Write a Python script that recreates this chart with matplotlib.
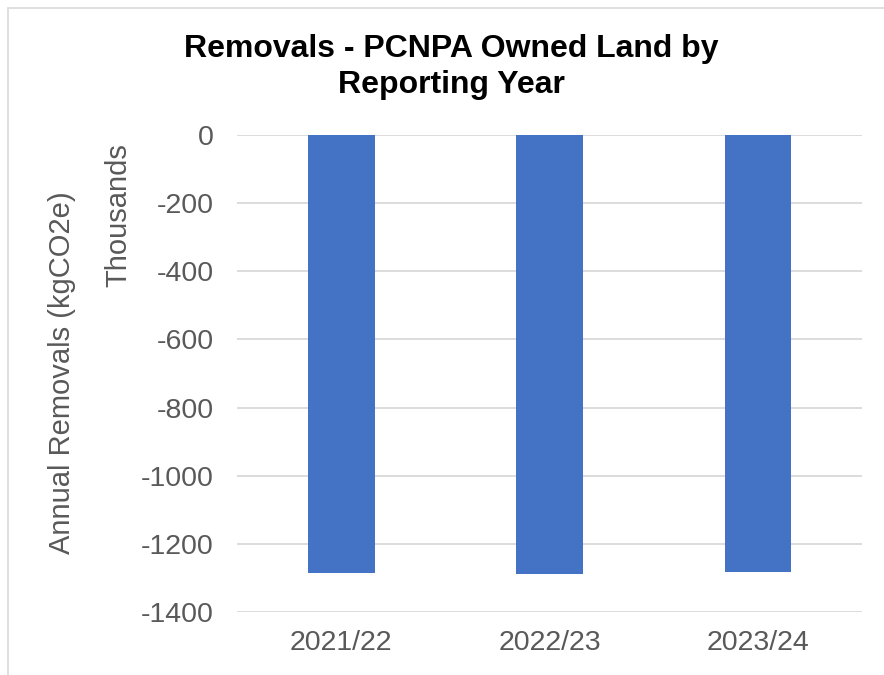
import matplotlib
matplotlib.use('Agg')
import matplotlib.pyplot as plt
from matplotlib.patches import Rectangle

# reporting years and removals (thousands kgCO2e)
years = ['2021/22', '2022/23', '2023/24']
removals = [-1287, -1288, -1283]
y_ticks = [0, -200, -400, -600, -800, -1000, -1200, -1400]

BAR_COLOR = '#4472C4'
TEXT_GRAY = '#595959'
GRID_GRAY = '#D9D9D9'

plt.rcParams['font.family'] = ['Liberation Sans', 'DejaVu Sans']

fig = plt.figure(figsize=(8.84, 6.75), dpi=100)
ax = fig.add_axes([237 / 884, 63 / 675, 625 / 884, 477 / 675])

# light chart border (left and top visible)
fig.patches.append(Rectangle((8 / 884, -0.1), 1.2, 1.1 - 8 / 675,
                             transform=fig.transFigure, fill=False,
                             edgecolor=GRID_GRAY, linewidth=1.2))

x = list(range(len(years)))
ax.bar(x, removals, width=0.32, color=BAR_COLOR, zorder=3)

ax.set_xlim(-0.5, 2.5)
ax.set_ylim(-1400, 0)
ax.set_yticks(y_ticks)
ax.set_yticklabels([str(t) for t in y_ticks])
ax.set_xticks(x)
ax.set_xticklabels(years)
ax.tick_params(axis='both', length=0, labelsize=20.5, labelcolor=TEXT_GRAY)
ax.tick_params(axis='y', pad=17)
ax.tick_params(axis='x', pad=13)

ax.grid(axis='y', color=GRID_GRAY, linewidth=1.3, zorder=0)
for s in ax.spines.values():
    s.set_visible(False)

fig.text(451 / 884, 1 - 67 / 675, 'Removals - PCNPA Owned Land by\nReporting Year',
         ha='center', va='center', fontsize=23, fontweight='bold',
         linespacing=1.25)
fig.text(62 / 884, 1 - 373 / 675, 'Annual Removals (kgCO2e)', rotation=90,
         ha='center', va='center', fontsize=21, color=TEXT_GRAY)
fig.text(118 / 884, 1 - 215 / 675, 'Thousands', rotation=90,
         ha='center', va='center', fontsize=21, color=TEXT_GRAY)

plt.savefig('out.png', dpi=100)
plt.close()
